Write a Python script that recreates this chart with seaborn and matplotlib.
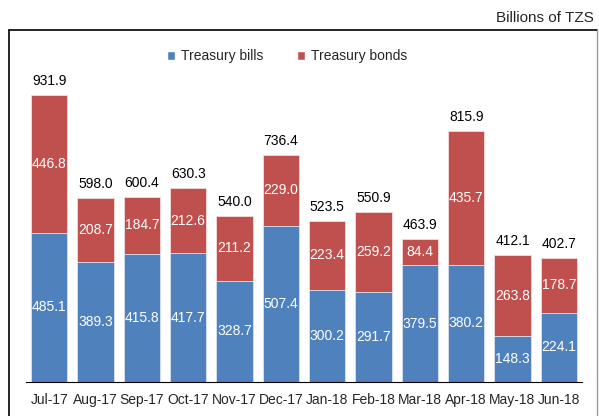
import matplotlib
matplotlib.use("Agg")
import matplotlib.pyplot as plt
import seaborn as sns
import pandas as pd
from matplotlib.lines import Line2D
from matplotlib.patches import Patch

months = ["Jul-17", "Aug-17", "Sep-17", "Oct-17", "Nov-17", "Dec-17",
          "Jan-18", "Feb-18", "Mar-18", "Apr-18", "May-18", "Jun-18"]
bills = [485.1, 389.3, 415.8, 417.7, 328.7, 507.4, 300.2, 291.7, 379.5, 380.2, 148.3, 224.1]
bonds = [446.8, 208.7, 184.7, 212.6, 211.2, 229.0, 223.4, 259.2, 84.4, 435.7, 263.8, 178.7]
totals = [931.9, 598.0, 600.4, 630.3, 540.0, 736.4, 523.5, 550.9, 463.9, 815.9, 412.1, 402.7]

BLUE = "#4F81BD"
RED = "#C0504D"

sns.set_style("white")
plt.rcParams['font.family'] = ['Liberation Sans', 'DejaVu Sans']

df = pd.DataFrame({"month": months, "bills": bills, "bonds": bonds, "total": totals})

fig = plt.figure(figsize=(5.99, 4.16), dpi=100)
ax = fig.add_axes([26/599, 1-382/416, (582-26)/599, (382-40)/416])

sns.barplot(data=df, x="month", y="total", color=RED, saturation=1, width=0.78,
            edgecolor="#f2dcdb", linewidth=0.6, ax=ax)
sns.barplot(data=df, x="month", y="bills", color=BLUE, saturation=1, width=0.78,
            edgecolor="#dce6f2", linewidth=0.6, ax=ax)

ax.set_ylim(0, 1110)
ax.set_xlim(-0.5, len(months) - 0.5)
ax.set_xlabel("")
ax.set_ylabel("")
ax.set_yticks([])
for s in ["top", "left", "right"]:
    ax.spines[s].set_visible(False)
ax.spines["bottom"].set_color("black")
ax.spines["bottom"].set_linewidth(0.8)

ax.set_xticks(range(len(months)))
ax.set_xticklabels(months, fontsize=10)
ax.tick_params(axis="x", which="major", length=0, pad=8)
ax.set_xticks([i - 0.5 for i in range(len(months) + 1)], minor=True)
ax.tick_params(axis="x", which="minor", length=4, width=0.8, color="black", direction="out")

for i in range(len(months)):
    ax.text(i, bills[i] / 2, f"{bills[i]:.1f}", ha="center", va="center",
            color="white", fontsize=10)
    ax.text(i, bills[i] + bonds[i] / 2, f"{bonds[i]:.1f}", ha="center", va="center",
            color="white", fontsize=10)
    ax.text(i, totals[i] + 22, f"{totals[i]:.1f}", ha="center", va="bottom",
            color="black", fontsize=10)

handles = [Patch(facecolor=BLUE, label="Treasury bills"),
           Patch(facecolor=RED, label="Treasury bonds")]
fig.legend(handles=handles, loc="center", bbox_to_anchor=(287/599, 1-56/416),
           ncol=2, frameon=False, fontsize=10, handlelength=0.6, handleheight=0.6,
           handletextpad=0.4, columnspacing=2.4)

# outer frame
fig.add_artist(Line2D([9/599, 9/599], [0, 1-30/416], color="black", lw=1.2, transform=fig.transFigure))
fig.add_artist(Line2D([9/599, 597/599], [1-30/416, 1-30/416], color="black", lw=1.2, transform=fig.transFigure))
fig.add_artist(Line2D([597/599, 597/599], [0, 1-30/416], color="#999999", lw=1.0, transform=fig.transFigure))

fig.text(594/599, 1-18/416, "Billions of TZS", ha="right", va="center", fontsize=11)

fig.savefig("out.png", dpi=100)
